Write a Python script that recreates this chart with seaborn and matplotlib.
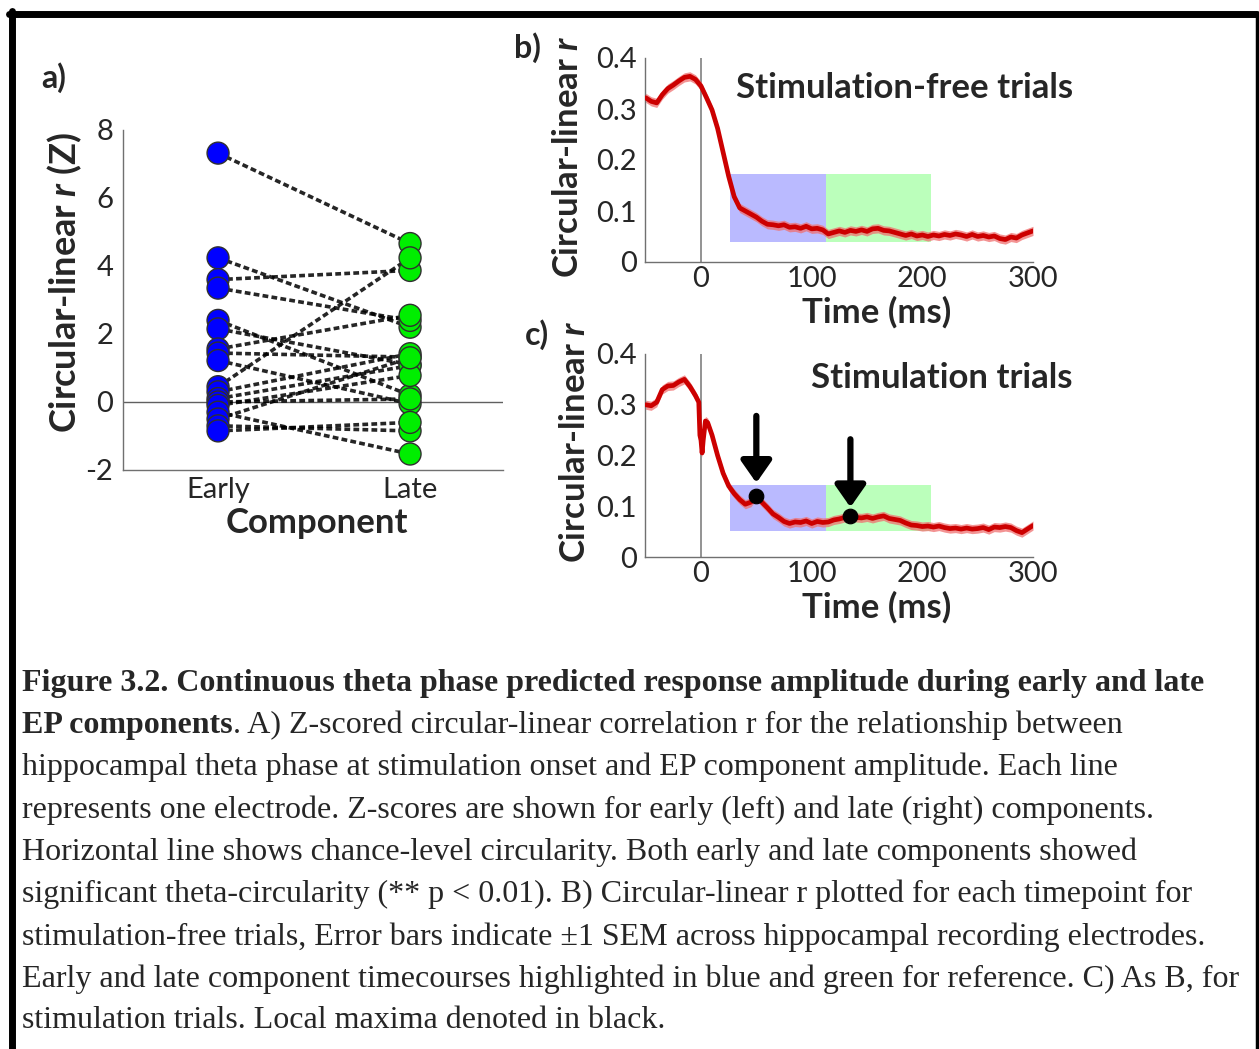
import numpy as np
import pandas as pd
import matplotlib
matplotlib.use("Agg")
import matplotlib.pyplot as plt
import seaborn as sns

# ---------------- data ----------------
components = ["Early", "Late"]
early_z = [7.32, 4.24, 3.60, 3.35, 2.40, 2.15, 1.56, 1.44, 1.22, 0.45, 0.30, 0.10, 0.00, -0.10, -0.30, -0.50, -0.70, -0.85]
late_z = [4.66, 2.20, 3.87, 2.40, 0.20, 1.10, 2.55, 1.32, -0.05, 4.24, 1.42, 1.07, 0.09, 0.78, -1.53, 1.30, -0.85, -0.60]

time_b = [-50, -45, -40, -35, -30, -25, -20, -15, -10, -5, 0, 5, 10, 15, 20, 25, 30, 35, 40, 45, 50,
          55, 60, 65, 70, 75, 80, 85, 90, 95, 100, 105, 110, 115, 120, 125, 130, 135, 140, 145, 150,
          155, 160, 165, 170, 175, 180, 185, 190, 195, 200, 205, 210, 215, 220, 225, 230, 235, 240,
          245, 250, 255, 260, 265, 270, 275, 280, 285, 290, 295, 300]
r_b = [0.322, 0.315, 0.312, 0.328, 0.340, 0.347, 0.355, 0.362, 0.364, 0.358, 0.345, 0.322, 0.298,
       0.262, 0.215, 0.168, 0.128, 0.106, 0.100, 0.094, 0.088, 0.080, 0.074, 0.073, 0.071, 0.073,
       0.068, 0.069, 0.066, 0.070, 0.065, 0.066, 0.063, 0.055, 0.058, 0.061, 0.058, 0.062, 0.060,
       0.063, 0.060, 0.065, 0.066, 0.062, 0.061, 0.058, 0.055, 0.052, 0.055, 0.051, 0.053, 0.050,
       0.053, 0.051, 0.054, 0.052, 0.055, 0.053, 0.050, 0.054, 0.050, 0.052, 0.049, 0.051, 0.046,
       0.044, 0.049, 0.047, 0.053, 0.057, 0.061]

time_c = [-50, -45, -40, -35, -30, -25, -20, -15, -10, -5, -2, -1, 0, 1, 2, 4, 6, 10, 15, 20, 25,
          30, 35, 40, 45, 50, 55, 60, 65, 70, 75, 80, 85, 90, 95, 100, 105, 110, 115, 120, 125,
          130, 135, 140, 145, 150, 155, 160, 165, 170, 175, 180, 185, 190, 195, 200, 205, 210,
          215, 220, 225, 230, 235, 240, 245, 250, 255, 260, 265, 270, 275, 280, 285, 290, 295, 300]
r_c = [0.300, 0.298, 0.305, 0.330, 0.337, 0.338, 0.345, 0.350, 0.336, 0.318, 0.305, 0.240, 0.230,
       0.205, 0.230, 0.268, 0.265, 0.240, 0.200, 0.165, 0.140, 0.125, 0.113, 0.104, 0.108, 0.121,
       0.108, 0.097, 0.085, 0.078, 0.070, 0.066, 0.069, 0.068, 0.071, 0.066, 0.070, 0.068, 0.069,
       0.073, 0.075, 0.078, 0.081, 0.078, 0.077, 0.079, 0.076, 0.079, 0.081, 0.076, 0.074, 0.072,
       0.067, 0.063, 0.062, 0.060, 0.061, 0.059, 0.061, 0.058, 0.056, 0.057, 0.055, 0.057, 0.055,
       0.056, 0.058, 0.054, 0.059, 0.058, 0.060, 0.058, 0.052, 0.048, 0.055, 0.062]
sem_b = 0.009
sem_c = 0.009

peak_t = [50, 135]
peak_r = [0.121, 0.081]
arrow_top = [0.278, 0.232]
arrow_tip = [0.146, 0.098]

early_window = [26, 113]
late_window = [113, 208]
window_y_b = [0.040, 0.172]
window_y_c = [0.052, 0.141]

caption_lines = [
    "hippocampal theta phase at stimulation onset and EP component amplitude. Each line",
    "represents one electrode. Z-scores are shown for early (left) and late (right) components.",
    "Horizontal line shows chance-level circularity. Both early and late components showed",
    "significant theta-circularity (** p < 0.01). B) Circular-linear r plotted for each timepoint for",
    "stimulation-free trials, Error bars indicate \u00b11 SEM across hippocampal recording electrodes.",
    "Early and late component timecourses highlighted in blue and green for reference. C) As B, for",
    "stimulation trials. Local maxima denoted in black.",
]

# ---------------- style ----------------
sns.set_style("white")
plt.rcParams["font.family"] = ["Lato", "DejaVu Sans"]
plt.rcParams["mathtext.fontset"] = "custom"
plt.rcParams["mathtext.it"] = "Lato:bold:italic"
plt.rcParams["mathtext.rm"] = "Lato:bold"
plt.rcParams["axes.unicode_minus"] = False

W, H = 1259, 1049
fig = plt.figure(figsize=(W / 100, H / 100), dpi=100)
fig.patch.set_facecolor("white")


def px_axes(left, top, right, bottom):
    return fig.add_axes([left / W, 1 - bottom / H, (right - left) / W, (bottom - top) / H])


AX_COL = "#707070"
TICK_FS = 21
LAB_FS = 25

# ---------------- panel a ----------------
axa = px_axes(123, 130, 503, 470)
n = len(early_z)
df_a = pd.DataFrame({
    "electrode": list(range(n)) * 2,
    "pos": [0] * n + [1] * n,
    "z": early_z + late_z,
    "comp": ["Early"] * n + ["Late"] * n,
})
axa.axhline(0, color="#606060", lw=1.0, zorder=0)
sns.lineplot(data=df_a, x="pos", y="z", units="electrode", estimator=None, color="black",
             lw=2.6, linestyle=(0, (1.6, 0.9)), alpha=0.85, ax=axa, zorder=1, legend=False)
sns.scatterplot(data=df_a, x="pos", y="z", hue="comp", palette={"Early": "#0000ff", "Late": "#00ee00"},
                s=250, edgecolor="#303030", linewidth=1.0, ax=axa, zorder=3, legend=False)
axa.set_xlim(-0.495, 1.484)
axa.set_ylim(-2, 8)
axa.set_xticks([0, 1])
axa.set_xticklabels(components)
axa.set_yticks([-2, 0, 2, 4, 6, 8])
axa.set_xlabel("Component", fontsize=LAB_FS, fontweight="bold", va="center")
axa.xaxis.set_label_coords((317 - 123) / 380, (470 - 523) / 340)
axa.set_ylabel(r"Circular-linear $r$ (Z)", fontsize=LAB_FS + 1, fontweight="bold", va="center")
axa.yaxis.set_label_coords((65 - 123) / 380, (470 - 283) / 340)
for s in ["top", "right"]:
    axa.spines[s].set_visible(False)
for s in ["left", "bottom"]:
    axa.spines[s].set_color(AX_COL)
    axa.spines[s].set_linewidth(1.0)
axa.tick_params(direction="in", length=4, color=AX_COL, labelsize=TICK_FS, pad=7)
axa.tick_params(axis="x", pad=5)


# ---------------- panels b, c ----------------
def time_panel(ax, t, r, sem, wy, title, title_y, top, bottom, ylab_x, ylab_y):
    hgt = bottom - top
    df = pd.DataFrame({"t": t, "r": r})
    ax.axvspan(early_window[0], early_window[1], ymin=wy[0] / 0.4, ymax=wy[1] / 0.4,
               color="#babaff", lw=0, zorder=0)
    ax.axvspan(late_window[0], late_window[1], ymin=wy[0] / 0.4, ymax=wy[1] / 0.4,
               color="#bbffbb", lw=0, zorder=0)
    ax.axvline(0, color="#808080", lw=1.2, zorder=1)
    ax.fill_between(df["t"], df["r"] - sem, df["r"] + sem, color="#f07070", alpha=0.75, lw=0, zorder=2)
    sns.lineplot(data=df, x="t", y="r", color="#cc0000", lw=3.4, ax=ax, zorder=3)
    ax.set_xlim(-50.6, 300)
    ax.set_ylim(0, 0.4)
    ax.set_xticks([0, 100, 200, 300])
    ax.set_yticks([0, 0.1, 0.2, 0.3, 0.4])
    ax.set_yticklabels(["0", "0.1", "0.2", "0.3", "0.4"])
    ax.set_xlabel("Time (ms)", fontsize=LAB_FS, fontweight="bold", va="center")
    ax.xaxis.set_label_coords((877 - 645) / 388, -50 / hgt)
    ax.set_ylabel(r"Circular-linear $r$", fontsize=LAB_FS, fontweight="bold", va="center")
    ax.yaxis.set_label_coords((ylab_x - 645) / 388, (bottom - ylab_y) / hgt)
    for s in ["top", "right"]:
        ax.spines[s].set_visible(False)
    for s in ["left", "bottom"]:
        ax.spines[s].set_color(AX_COL)
        ax.spines[s].set_linewidth(1.0)
    ax.tick_params(direction="in", length=4, color=AX_COL, labelsize=TICK_FS, pad=6)
    ax.tick_params(axis="x", pad=3)
    ax.text(336, title_y, title, fontsize=25, fontweight="bold", ha="right", va="center", clip_on=False)


axb = px_axes(645, 58, 1033, 262)
time_panel(axb, time_b, r_b, sem_b, window_y_b, "Stimulation-free trials", 0.342, 58, 262, 568, 157)

axc = px_axes(645, 354, 1033, 557)
time_panel(axc, time_c, r_c, sem_c, window_y_c, "Stimulation trials", 0.353, 354, 557, 575, 442)
sns.scatterplot(x=peak_t, y=peak_r, color="black", s=110, edgecolor="black", ax=axc, zorder=5)
for pt, top, tip in zip(peak_t, arrow_top, arrow_tip):
    axc.annotate("", xy=(pt, tip), xytext=(pt, top),
                 arrowprops=dict(arrowstyle="-|>,head_length=0.6,head_width=0.42", lw=4.5,
                                 color="black", mutation_scale=22, shrinkA=0, shrinkB=0))

# ---------------- panel labels ----------------
fig.text(54 / W, 1 - 78 / H, "a)", fontsize=23, fontweight="bold", ha="center", va="center")
fig.text(527 / W, 1 - 48 / H, "b)", fontsize=23, fontweight="bold", ha="center", va="center")
fig.text(537 / W, 1 - 335 / H, "c)", fontsize=23, fontweight="bold", ha="center", va="center")

# ---------------- caption ----------------
CAP_FS = 23
serif = ["Liberation Serif", "DejaVu Serif"]
line_y = [683, 725, 767, 810, 852, 894, 937, 979, 1021]
fig.text(22 / W, 1 - line_y[0] / H,
         "Figure 3.2. Continuous theta phase predicted response amplitude during early and late",
         fontsize=CAP_FS, fontweight="bold", family=serif, va="center", ha="left")
t_bold = fig.text(22 / W, 1 - line_y[1] / H, "EP components", fontsize=CAP_FS, fontweight="bold",
                  family=serif, va="center", ha="left")
fig.add_artist(matplotlib.text.Annotation(
    ". A) Z-scored circular-linear correlation r for the relationship between",
    xy=(1, 0), xycoords=t_bold, va="bottom", ha="left", fontsize=CAP_FS,
    family=serif, annotation_clip=False))
for yy, line in zip(line_y[2:], caption_lines):
    fig.text(22 / W, 1 - yy / H, line, fontsize=CAP_FS, family=serif, va="center", ha="left")

# ---------------- outer frame ----------------
frame_kw = dict(color="black", lw=5, transform=fig.transFigure, clip_on=False)
fig.add_artist(plt.Line2D([11.5 / W, 11.5 / W], [1 - 11 / H, 0], **frame_kw))
fig.add_artist(plt.Line2D([9 / W, 1257 / W], [1 - 13.5 / H, 1 - 13.5 / H], **frame_kw))
fig.add_artist(plt.Line2D([1256.5 / W, 1256.5 / W], [1 - 13.5 / H, 0], color="black", lw=2.5,
                          transform=fig.transFigure))

fig.savefig("out.png", dpi=100, facecolor="white")
